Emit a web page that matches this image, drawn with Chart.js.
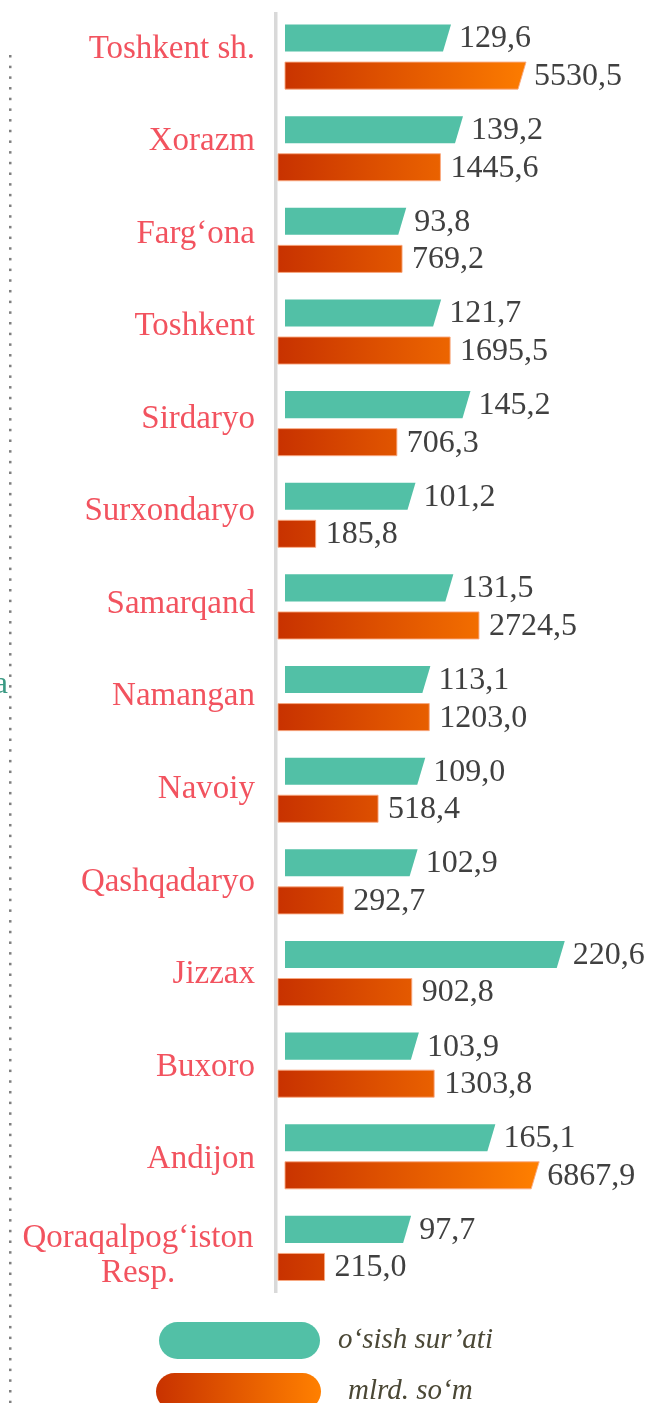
<!DOCTYPE html>
<html>
<head>
<meta charset="utf-8">
<script src="https://cdn.jsdelivr.net/npm/chart.js@4"></script>
<style>
  html, body { margin: 0; padding: 0; background: #fff; }
  #regions { display: block; }
</style>
</head>
<body>
<canvas id="regions" width="648" height="1403"></canvas>
<script>
const categories = ['Toshkent sh.', 'Xorazm', 'Farg‘ona', 'Toshkent', 'Sirdaryo', 'Surxondaryo', 'Samarqand',
  'Namangan', 'Navoiy', 'Qashqadaryo', 'Jizzax', 'Buxoro', 'Andijon', ['Qoraqalpog‘iston', 'Resp.']];
const growth = [129.6, 139.2, 93.8, 121.7, 145.2, 101.2, 131.5, 113.1, 109.0, 102.9, 220.6, 103.9, 165.1, 97.7];
const volume = [5530.5, 1445.6, 769.2, 1695.5, 706.3, 185.8, 2724.5, 1203.0, 518.4, 292.7, 902.8, 1303.8, 6867.9, 215.0];
const seriesNames = ['o‘sish sur’ati', 'mlrd. so‘m'];

const GREEN = '#52c0a6';
const SERIF = '"Liberation Serif", "Times New Roman", serif';

function fmt(v) {
  return v.toFixed(1).replace('.', ',');
}

function orangeGradient(ctx, x0, x1) {
  const g = ctx.createLinearGradient(x0, 0, x1, 0);
  g.addColorStop(0, '#c83200');
  g.addColorStop(1, '#ff8000');
  return g;
}

// bars with a slanted right end, orange ones filled with a gradient
const barShapes = {
  id: 'barShapes',
  beforeDatasetDraw(chart, args) {
    const ctx = chart.ctx;
    const meta = args.meta;
    const area = chart.chartArea;
    const greenBase = chart.scales.xg.getPixelForValue(0);
    ctx.save();
    meta.data.forEach((bar, i) => {
      const p = bar.getProps(['x', 'y', 'base', 'height'], true);
      const top = p.y - p.height / 2;
      const bot = p.y + p.height / 2;
      const slanted = args.index === 0 || volume[i] >= 5000;
      const base = slanted ? greenBase : p.base;
      ctx.beginPath();
      if (slanted) {
        ctx.moveTo(base, top);
        ctx.lineTo(p.x + 4, top);
        ctx.lineTo(p.x - 4, bot);
        ctx.lineTo(base, bot);
      } else {
        ctx.rect(base, top, p.x - base, p.height);
      }
      ctx.closePath();
      if (args.index === 0) {
        ctx.fillStyle = GREEN;
        ctx.fill();
      } else {
        ctx.fillStyle = orangeGradient(ctx, area.left, area.left + 262);
        ctx.fill();
        ctx.strokeStyle = 'rgba(250,170,130,0.9)';
        ctx.lineWidth = 1;
        ctx.stroke();
      }
    });
    ctx.restore();
    return false;
  }
};

const decor = {
  id: 'decor',
  beforeDraw(chart) {
    const ctx = chart.ctx;
    const area = chart.chartArea;
    ctx.save();
    // axis line
    ctx.fillStyle = '#d9d9d9';
    ctx.fillRect(area.left - 4, area.top + 1, 3.5, area.bottom - area.top - 2);
    // dotted divider on the left
    ctx.fillStyle = '#7f7f7f';
    for (let y = 55; y < chart.height; y += 10.68) {
      ctx.fillRect(9, y, 2.5, 2.5);
    }
    ctx.fillStyle = '#3b9a84';
    ctx.font = '32px ' + SERIF;
    ctx.textAlign = 'right';
    ctx.textBaseline = 'alphabetic';
    ctx.fillText('a', 8, 693);
    ctx.restore();
  },
  afterDraw(chart) {
    const ctx = chart.ctx;
    const yScale = chart.scales.y;
    const area = chart.chartArea;
    const mid = (area.top + area.bottom) / 2;
    ctx.save();

    // category names, spaced a touch wider than the bars
    ctx.fillStyle = '#f2535f';
    ctx.font = '33px ' + SERIF;
    ctx.textBaseline = 'middle';
    categories.forEach((c, i) => {
      const y = mid + (yScale.getPixelForTick(i) - mid) * 1.01;
      if (Array.isArray(c)) {
        ctx.textAlign = 'center';
        c.forEach((line, j) => {
          ctx.fillText(line, 138, y + 2 + (j - (c.length - 1) / 2) * 35);
        });
      } else {
        ctx.textAlign = 'right';
        ctx.fillText(c, 255, y - 2);
      }
    });

    // value labels
    ctx.fillStyle = '#404040';
    ctx.font = '32px ' + SERIF;
    ctx.textAlign = 'left';
    [growth, volume].forEach((arr, d) => {
      chart.getDatasetMeta(d).data.forEach((bar, i) => {
        const p = bar.getProps(['x', 'y'], true);
        const slanted = d === 0 || arr[i] >= 5000;
        ctx.fillText(fmt(arr[i]), p.x + (slanted ? 12 : 10), p.y + 1);
      });
    });

    // legend
    const items = [
      { x: 159, y: 1322, w: 161, fill: GREEN, tx: 338 },
      { x: 156, y: 1373, w: 165, fill: orangeGradient(ctx, 156, 321), tx: 348 }
    ];
    ctx.font = 'italic 29px ' + SERIF;
    items.forEach((it, i) => {
      const h = 37;
      ctx.beginPath();
      ctx.roundRect(it.x, it.y, it.w, h, h / 2);
      ctx.fillStyle = it.fill;
      ctx.fill();
      ctx.fillStyle = '#4b4836';
      ctx.fillText(seriesNames[i], it.tx, it.y + h / 2);
    });
    ctx.restore();
  }
};

new Chart(document.getElementById('regions'), {
  type: 'bar',
  data: {
    labels: categories,
    datasets: [
      { label: seriesNames[0], data: growth, xAxisID: 'xg', backgroundColor: GREEN },
      { label: seriesNames[1], data: volume, xAxisID: 'xo', backgroundColor: '#e05000' }
    ]
  },
  options: {
    indexAxis: 'y',
    responsive: false,
    animation: false,
    categoryPercentage: 0.82,
    barPercentage: 0.72,
    layout: { padding: { left: 278, right: 8, top: 11, bottom: 109 } },
    plugins: {
      legend: { display: false },
      tooltip: { enabled: false }
    },
    scales: {
      y: { display: false },
      xg: { type: 'linear', display: false, min: -5.6, max: 284 },
      xo: { type: 'logarithmic', display: false, min: 100, max: 38500 }
    }
  },
  plugins: [barShapes, decor]
});
</script>
</body>
</html>
